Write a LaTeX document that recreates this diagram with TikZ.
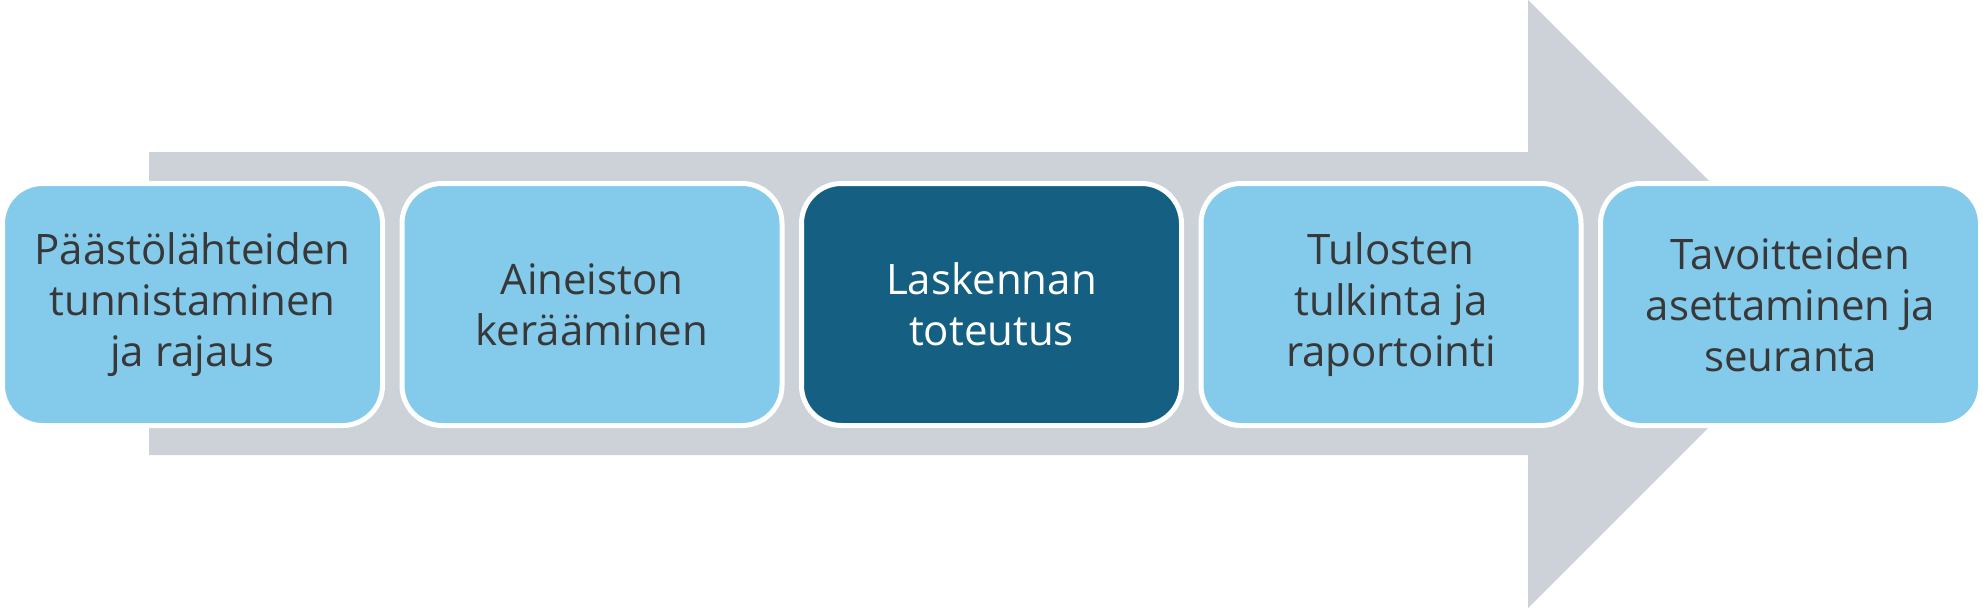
\documentclass[tikz,border=0pt]{standalone}
\usepackage{fontspec}
\setmainfont{Open Sans}
\usepackage{tikz}
\definecolor{band}{HTML}{CDD2D9}
\definecolor{light}{HTML}{83CAEB}
\definecolor{dark}{HTML}{156082}
\definecolor{ink}{HTML}{383838}
\tikzset{
  flow/.style={fill=band, draw=none},
  stage/.style={rounded corners=40pt, minimum width=380pt, minimum height=242pt,
    inner sep=0pt, align=center, fill=light, draw=white, line width=5pt,
    text=ink, font=\fontsize{42}{51}\selectfont},
  current/.style={stage, fill=dark, text=white}
}
\begin{document}
\begin{tikzpicture}[x=1pt, y=-1pt]
  \useasboundingbox (0,0) rectangle (1983,608);

  % big grey arrow behind the stages
  \fill[flow] (149,152) -- (1528,152) -- (1528,0) -- (1832,304)
    -- (1528,608) -- (1528,455) -- (149,455) -- cycle;

  \node[stage] (s1) at (192.5,304.5) {Päästölähteiden\\tunnistaminen\\ja rajaus};
  \node[stage] (s2) at (592,304.5) {Aineiston\\kerääminen};
  \node[current] (s3) at (991.5,304.5) {Laskennan\\toteutus};
  \node[stage] (s4) at (1391,304.5) {Tulosten\\tulkinta ja\\raportointi};
  \node[stage] (s5) at (1790.5,304.5) {Tavoitteiden\\asettaminen ja\\seuranta};
\end{tikzpicture}
\end{document}
